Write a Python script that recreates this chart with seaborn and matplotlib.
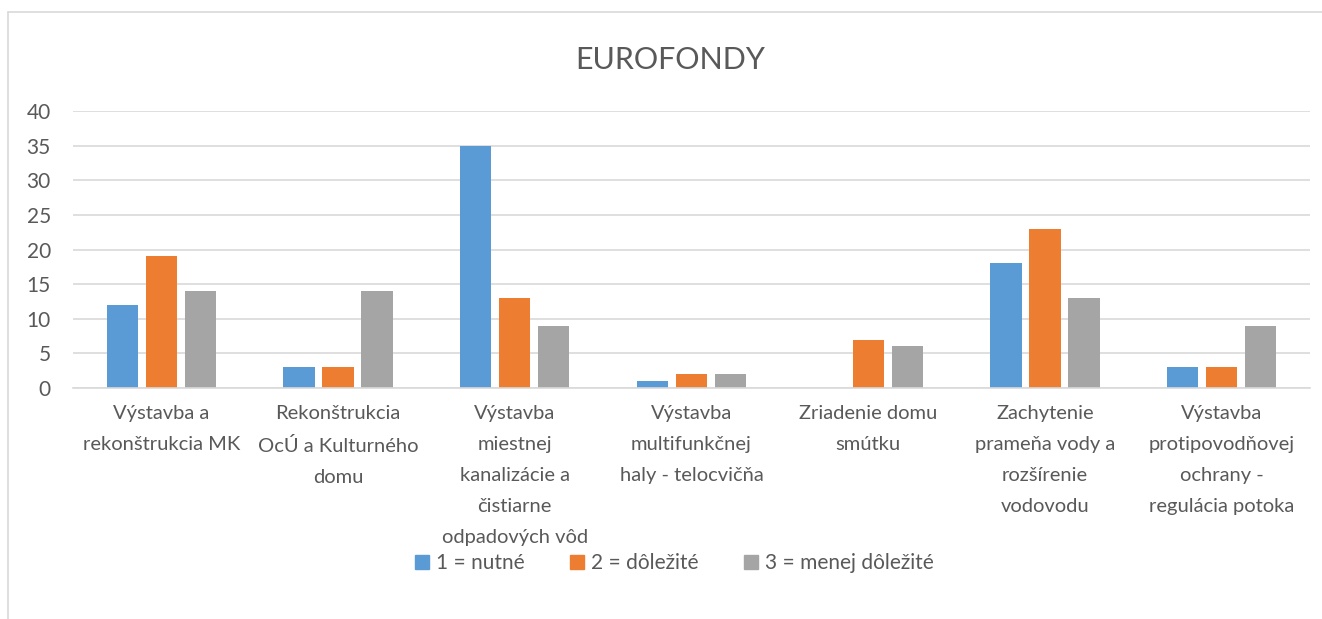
import pandas as pd
import matplotlib.pyplot as plt
import seaborn as sns
from matplotlib.lines import Line2D

# Data
categories = [
    "Výstavba a\nrekonštrukcia MK",
    "Rekonštrukcia\nOcÚ a Kulturného\ndomu",
    "Výstavba\nmiestnej\nkanalizácie a\nčistiarne\nodpadových vôd",
    "Výstavba\nmultifunkčnej\nhaly - telocvičňa",
    "Zriadenie domu\nsmútku",
    "Zachytenie\nprameňa vody a\nrozšírenie\nvodovodu",
    "Výstavba\nprotipovodňovej\nochrany -\nregulácia potoka",
]
series = ["1 = nutné", "2 = dôležité", "3 = menej dôležité"]
nutne = [12, 3, 35, 1, 0, 18, 3]
dolezite = [19, 3, 13, 2, 7, 23, 3]
menej = [14, 14, 9, 2, 6, 13, 9]
colors = ["#5B9BD5", "#ED7D31", "#A5A5A5"]

rows = []
for s, vals in zip(series, [nutne, dolezite, menej]):
    for c, v in zip(categories, vals):
        rows.append({"kategoria": c, "seria": s, "pocet": v})
df = pd.DataFrame(rows)

sns.set_style("white")
plt.rcParams['font.family'] = ['Lato', 'DejaVu Sans']

fig = plt.figure(figsize=(13.22, 6.19), dpi=100)
ax = fig.add_axes([73 / 1322, 1 - 388 / 619, (1310 - 73) / 1322, (388 - 111) / 619])

sns.barplot(data=df, x="kategoria", y="pocet", hue="seria", palette=colors,
            width=0.662, gap=0.2, ax=ax, legend=False, saturation=1, linewidth=0)

ax.set_ylim(0, 40)
ax.set_yticks(range(0, 41, 5))
ax.yaxis.grid(True, color="#D9D9D9", linewidth=1.2)
ax.set_axisbelow(True)
for side in ["top", "right", "left"]:
    ax.spines[side].set_visible(False)
ax.spines["bottom"].set_color("#D9D9D9")
ax.spines["bottom"].set_linewidth(1.2)
ax.tick_params(axis="x", length=0, colors="#595959", labelsize=14.5, pad=12)
ax.tick_params(axis="y", length=0, colors="#595959", labelsize=15, pad=16)
for lbl in ax.get_xticklabels():
    lbl.set_linespacing(2.0)
ax.set_xlabel("")
ax.set_ylabel("")

fig.text(0.507, 1 - 60 / 619, "EUROFONDY", ha="center", va="center",
         fontsize=22, color="#595959")

handles = [Line2D([0], [0], marker="s", linestyle="", markersize=10,
                  markerfacecolor=c, markeredgecolor=c) for c in colors]
fig.legend(handles, series, loc="center", bbox_to_anchor=(0.51, 1 - 563 / 619),
           ncol=3, frameon=False, fontsize=15, labelcolor="#595959",
           handlelength=0.7, handletextpad=0.3, columnspacing=2.2)

# chart frame
fig.add_artist(Line2D([8 / 1322, 8 / 1322], [0, 1 - 12 / 619], color="#D9D9D9",
                      linewidth=1.2, transform=fig.transFigure))
fig.add_artist(Line2D([8 / 1322, 1], [1 - 12 / 619, 1 - 12 / 619], color="#D9D9D9",
                      linewidth=1.2, transform=fig.transFigure))

fig.savefig("out.png", dpi=100)
